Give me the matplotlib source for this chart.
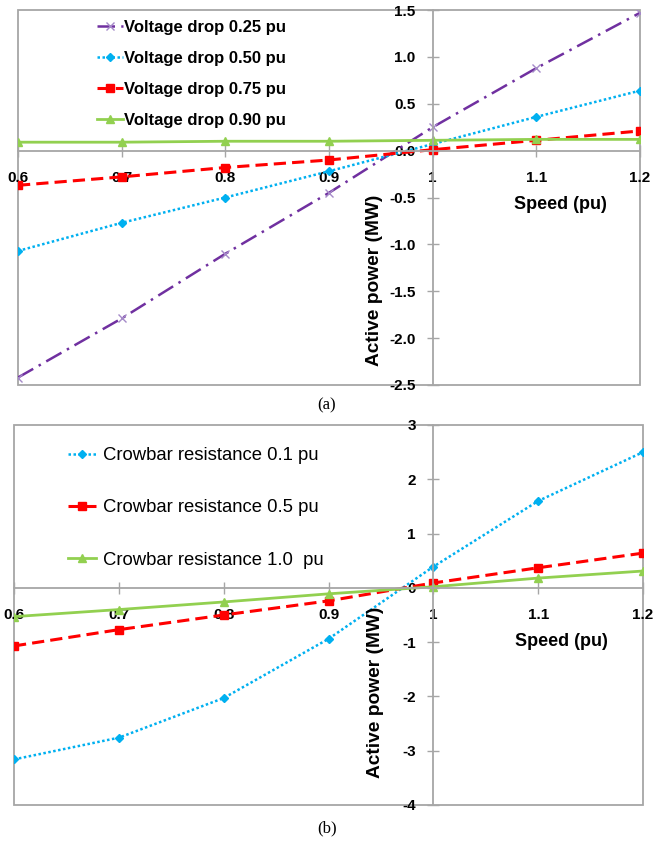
import matplotlib.pyplot as plt
from matplotlib.patches import Rectangle

# speed values shared by both panels
speed = [0.6, 0.7, 0.8, 0.9, 1.0, 1.1, 1.2]
x_tick_labels = ["0.6", "0.7", "0.8", "0.9", "1", "1.1", "1.2"]

# (a) voltage drop
vd_labels = ["Voltage drop 0.25 pu", "Voltage drop 0.50 pu",
             "Voltage drop 0.75 pu", "Voltage drop 0.90 pu"]
vd_025 = [-2.42, -1.79, -1.10, -0.45, 0.25, 0.88, 1.47]
vd_050 = [-1.07, -0.77, -0.50, -0.22, 0.07, 0.36, 0.64]
vd_075 = [-0.37, -0.28, -0.18, -0.10, 0.01, 0.11, 0.21]
vd_090 = [0.09, 0.09, 0.10, 0.10, 0.11, 0.12, 0.12]
a_yticks = [-2.5, -2.0, -1.5, -1.0, -0.5, 0.0, 0.5, 1.0, 1.5]

# (b) crowbar resistance
cb_labels = ["Crowbar resistance 0.1 pu", "Crowbar resistance 0.5 pu",
             "Crowbar resistance 1.0  pu"]
cb_01 = [-3.16, -2.76, -2.03, -0.94, 0.39, 1.60, 2.50]
cb_05 = [-1.07, -0.77, -0.50, -0.24, 0.09, 0.37, 0.64]
cb_10 = [-0.53, -0.40, -0.26, -0.11, 0.02, 0.18, 0.31]
b_yticks = [-4, -3, -2, -1, 0, 1, 2, 3]

PURPLE = "#7030A0"
BLUE = "#00B0F0"
RED = "#FF0000"
GREEN = "#92D050"
AXCOL = "#a6a6a6"

plt.rcParams['font.family'] = ['Liberation Sans', 'DejaVu Sans']

fig = plt.figure(figsize=(6.54, 8.42), dpi=100)
W, H = 654, 842


def make_axes(left, top, right, bottom):
    return fig.add_axes([left / W, 1 - bottom / H, (right - left) / W, (bottom - top) / H])


def style_axes(ax, ylim, yticks, ylabels, speed_pos, power_pos):
    ax.set_xlim(0.6, 1.2)
    ax.set_ylim(*ylim)
    ax.spines['left'].set_position(('data', 1.0))
    ax.spines['bottom'].set_position(('data', 0.0))
    ax.spines['top'].set_visible(False)
    ax.spines['right'].set_visible(False)
    for s in ['left', 'bottom']:
        ax.spines[s].set_color(AXCOL)
        ax.spines[s].set_linewidth(1.3)
    ax.add_patch(Rectangle((0, 0), 1, 1, transform=ax.transAxes, fill=False,
                           ec=AXCOL, lw=1.3, clip_on=False, zorder=0))
    ax.set_xticks(speed)
    ax.set_xticklabels(x_tick_labels, fontweight='bold', fontsize=11)
    ax.set_yticks(yticks)
    ax.set_yticklabels(ylabels, fontweight='bold', fontsize=11)
    ax.tick_params(direction='inout', length=8, width=1, color=AXCOL)
    ax.tick_params(axis='x', pad=10.5)
    ax.tick_params(axis='y', pad=8.5)
    ax.text(speed_pos[0], speed_pos[1], "Speed (pu)", ha='center', va='center',
            fontweight='bold', fontsize=13)
    ax.text(power_pos[0], power_pos[1], "Active power (MW)", ha='center', va='center',
            rotation=90, fontweight='bold', fontsize=13.8)


# ---- panel (a)
ax1 = make_axes(18, 10, 640, 385)
ax1.plot(speed, vd_025, color=PURPLE, lw=1.8, ls=(0, (7, 2.5, 1, 2.5)),
         marker='x', ms=6, mew=1, mec="#a58ac8", label=vd_labels[0])
ax1.plot(speed, vd_050, color=BLUE, lw=1.8, ls=(0, (1, 1)),
         marker='D', ms=4.5, label=vd_labels[1])
ax1.plot(speed, vd_075, color=RED, lw=2.2, ls=(0, (4, 2)),
         marker='s', ms=6, label=vd_labels[2])
ax1.plot(speed, vd_090, color=GREEN, lw=2, marker='^', ms=6, label=vd_labels[3])
style_axes(ax1, (-2.5, 1.5), a_yticks, ["%.1f" % v for v in a_yticks],
           (1.123, -0.57), (0.944, -1.38))
ax1.legend(loc='upper left', bbox_to_anchor=(97 / W, 1 - 20 / H),
           bbox_transform=fig.transFigure, frameon=False, borderpad=0,
           borderaxespad=0, handlelength=1.55, handletextpad=0.1,
           labelspacing=0.95, prop={'weight': 'bold', 'size': 12})

# ---- panel (b)
ax2 = make_axes(14, 425, 643, 805)
ax2.plot(speed, cb_01, color=BLUE, lw=1.8, ls=(0, (1, 1)),
         marker='D', ms=4.5, label=cb_labels[0])
ax2.plot(speed, cb_05, color=RED, lw=2.2, ls=(0, (4, 2)),
         marker='s', ms=6, label=cb_labels[1])
ax2.plot(speed, cb_10, color=GREEN, lw=2, marker='^', ms=6, label=cb_labels[2])
style_axes(ax2, (-4, 3), b_yticks, [str(v) for v in b_yticks],
           (1.122, -0.99), (0.945, -1.93))
ax2.legend(loc='upper left', bbox_to_anchor=(68 / W, 1 - 447 / H),
           bbox_transform=fig.transFigure, frameon=False, borderpad=0,
           borderaxespad=0, handlelength=1.5, handletextpad=0.4,
           labelspacing=1.92, prop={'size': 13.3})

fig.text(327 / W, 1 - 405 / H, "(a)", ha='center', va='center',
         family='Liberation Serif', fontsize=12)
fig.text(327 / W, 1 - 828 / H, "(b)", ha='center', va='center',
         family='Liberation Serif', fontsize=12)

fig.savefig("out.png", dpi=100)
